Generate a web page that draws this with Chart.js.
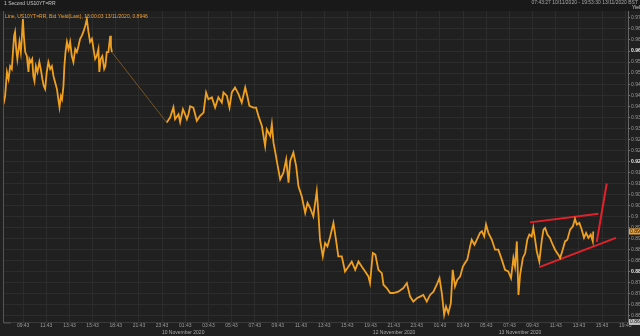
<!DOCTYPE html>
<html>
<head>
<meta charset="utf-8">
<script src="https://cdn.jsdelivr.net/npm/chart.js@4/dist/chart.umd.min.js"></script>
<style>
  html, body { margin: 0; padding: 0; background: #202020; }
  #wrap { width: 640px; height: 336px; }
</style>
</head>
<body>
<div id="wrap"><canvas id="chart" width="640" height="336"></canvas></div>
<script>
// Tick labels of the compressed time axis (one slot per label)
const slotLabels = ["09:43", "11:43", "13:43", "15:43", "18:43", "21:43", "23:43", "01:43", "03:43",
    "05:43", "07:43", "09:43", "11:43", "13:43", "15:43", "19:43", "21:43", "23:43", "01:43",
    "03:43", "05:43", "07:43", "09:43", "11:43", "13:43", "15:43", "19:43"];
const dateLabels = ["10 November 2020", "12 November 2020", "13 November 2020"];
const dateSlots = [6.91, 16.02, 21.46];

const yTicks = [0.864, 0.868, 0.872, 0.876, 0.88, 0.884, 0.888, 0.892, 0.896, 0.9, 0.904, 0.908,
    0.912, 0.916, 0.92, 0.924, 0.928, 0.932, 0.936, 0.94, 0.944, 0.948, 0.952, 0.956, 0.96,
    0.964, 0.968, 0.972];

// US10YT=RR bid yield (x = position on the time axis in slots)
const timeSlots = [-0.85, -0.78, -0.70, -0.63, -0.56, -0.49, -0.44, -0.39, -0.35, -0.30, -0.25, -0.20,
    -0.16, -0.10, -0.06, -0.01, 0.03, 0.09, 0.16, 0.23, 0.27, 0.33, 0.39, 0.44, 0.49, 0.55, 0.62,
    0.70, 0.76, 0.83, 0.89, 0.95, 1.02, 1.09, 1.17, 1.24, 1.31, 1.38, 1.46, 1.52, 1.57, 1.63, 1.68,
    1.74, 1.78, 1.83, 1.89, 1.96, 2.03, 2.10, 2.17, 2.25, 2.32, 2.39, 2.46, 2.53, 2.60, 2.68, 2.75,
    2.82, 2.89, 2.97, 3.04, 3.11, 3.18, 3.25, 3.29, 3.35, 3.42, 3.50, 3.55, 3.61, 3.68, 3.76, 3.79,
    3.83,
    6.20, 6.35, 6.49, 6.56, 6.71, 6.78, 6.90, 6.99, 7.07, 7.14, 7.21, 7.35, 7.50, 7.64, 7.79, 7.90,
    8.00, 8.15, 8.29, 8.43, 8.58, 8.65, 8.80, 8.91, 9.01, 9.15, 9.30, 9.44, 9.59, 9.68, 9.77, 9.94,
    10.06, 10.16, 10.31, 10.45, 10.52, 10.67, 10.74, 10.81, 10.88, 10.98, 11.10, 11.24, 11.36, 11.46,
    11.53, 11.67, 11.79, 11.89, 12.03, 12.18, 12.28, 12.39, 12.53, 12.68, 12.75, 12.82, 12.94, 13.04,
    13.14, 13.26, 13.40, 13.51, 13.61, 13.76, 13.90, 14.05, 14.19, 14.34, 14.48, 14.62, 14.77, 14.91,
    14.98, 15.10, 15.21, 15.34, 15.49, 15.56, 15.70, 15.85, 15.99, 16.20, 16.42, 16.57, 16.71, 16.85,
    17.00, 17.14, 17.28, 17.43, 17.57, 17.72, 17.86, 17.98, 18.08, 18.18, 18.26, 18.36, 18.47, 18.55,
    18.65, 18.75, 18.87, 18.99, 19.08, 19.18, 19.30, 19.37, 19.49, 19.59, 19.73, 19.81, 19.91, 19.99,
    20.09, 20.24, 20.38, 20.52, 20.67, 20.81, 20.95, 21.07, 21.17, 21.24, 21.32, 21.39, 21.46, 21.58,
    21.68, 21.77, 21.86, 21.96, 22.03, 22.11, 22.18, 22.29, 22.40, 22.47, 22.54, 22.64, 22.75, 22.87,
    22.97, 23.11, 23.19, 23.30, 23.40, 23.50, 23.62, 23.74, 23.83, 23.91, 24.02, 24.12, 24.22, 24.31,
    24.41, 24.51, 24.60, 24.62];
const yields = [0.9407, 0.9436, 0.9524, 0.9498, 0.9545, 0.9535, 0.9596, 0.9655, 0.9669, 0.9607, 0.9571,
    0.9607, 0.9633, 0.9596, 0.9644, 0.9716, 0.9655, 0.9596, 0.9582, 0.9524, 0.9571, 0.9560, 0.9571,
    0.9509, 0.9491, 0.9545, 0.9524, 0.9560, 0.9535, 0.9498, 0.9473, 0.9462, 0.9524, 0.9560, 0.9535,
    0.9545, 0.9509, 0.9487, 0.9462, 0.9425, 0.9396, 0.9436, 0.9425, 0.9473, 0.9545, 0.9596, 0.9633,
    0.9607, 0.9633, 0.9582, 0.9560, 0.9607, 0.9596, 0.9618, 0.9644, 0.9655, 0.9669, 0.9691, 0.9716,
    0.9669, 0.9633, 0.9644, 0.9607, 0.9571, 0.9582, 0.9607, 0.9524, 0.9571, 0.9582, 0.9535, 0.9545,
    0.9596, 0.9596, 0.9655, 0.9618, 0.9596,
    0.9341, 0.9360, 0.9396, 0.9353, 0.9371, 0.9342, 0.9389, 0.9371, 0.9353, 0.9371, 0.9400, 0.9395,
    0.9347, 0.9365, 0.9377, 0.9450, 0.9425, 0.9432, 0.9395, 0.9432, 0.9413, 0.9450, 0.9437, 0.9395,
    0.9450, 0.9468, 0.9444, 0.9413, 0.9468, 0.9437, 0.9401, 0.9395, 0.9395, 0.9365, 0.9328, 0.9256,
    0.9316, 0.9292, 0.9335, 0.9268, 0.9237, 0.9189, 0.9135, 0.9159, 0.9207, 0.9123, 0.9201, 0.9232,
    0.9183, 0.9110, 0.9074, 0.9013, 0.9050, 0.9032, 0.9001, 0.9092, 0.9013, 0.8916, 0.8856, 0.8904,
    0.8892, 0.8928, 0.8977, 0.8916, 0.8856, 0.8856, 0.8801, 0.8819, 0.8837, 0.8807, 0.8837, 0.8819,
    0.8801, 0.8783, 0.8759, 0.8868, 0.8862, 0.8807, 0.8795, 0.8753, 0.8741, 0.8723, 0.8723, 0.8728,
    0.8741, 0.8759, 0.8710, 0.8692, 0.8704, 0.8710, 0.8716, 0.8692, 0.8716, 0.8728, 0.8753, 0.8777,
    0.8723, 0.8644, 0.8674, 0.8650, 0.8686, 0.8807, 0.8747, 0.8771, 0.8783, 0.8819, 0.8832, 0.8844,
    0.8892, 0.8916, 0.8898, 0.8916, 0.8941, 0.8947, 0.8928, 0.8971, 0.8941, 0.8916, 0.8880, 0.8880,
    0.8844, 0.8807, 0.8801, 0.8777, 0.8850, 0.8819, 0.8910, 0.8716, 0.8789, 0.8850, 0.8868, 0.8916,
    0.8935, 0.8928, 0.8959, 0.8916, 0.8874, 0.8837, 0.8916, 0.8953, 0.8959, 0.8935, 0.8923, 0.8898,
    0.8880, 0.8862, 0.8850, 0.8880, 0.8910, 0.8916, 0.8953, 0.8965, 0.8992, 0.8971, 0.8977, 0.8953,
    0.8923, 0.8941, 0.8923, 0.8935, 0.8910, 0.8946];
const lastYield = 0.8946;
const axisLow = 0.8618;

// hand-drawn wedge lines (start/end)
const upperTrendX = [21.89, 24.84], upperTrendY = [0.8979, 0.9010];
const lowerTrendX = [22.29, 25.60], lowerTrendY = [0.8817, 0.8923];
const breakoutX = [24.77, 25.20], breakoutY = [0.8908, 0.9120];

function toPoints(xs, ys) {
    return xs.map((x, i) => ({ x: x, y: ys[i] }));
}

function fmtYield(v) {
    return parseFloat(v.toFixed(4)).toString();
}

function isMajor(c) {
    return !!(c && c.tick) && Math.round(c.tick.value * 1000) % 40 === 0;
}

Chart.defaults.font.family = "'Liberation Sans', Arial, sans-serif";
Chart.defaults.font.size = 5;

// background, header texts and axis tags
const decor = {
    id: 'decor',
    beforeDraw(chart) {
        const ctx = chart.ctx;
        ctx.save();
        ctx.fillStyle = '#202020';
        ctx.fillRect(0, 0, chart.width, chart.height);
        ctx.fillStyle = '#191919';
        ctx.fillRect(0, 0, chart.width, 11);
        ctx.restore();
    },
    afterDraw(chart) {
        const ctx = chart.ctx;
        const area = chart.chartArea;
        const y = chart.scales.y;
        ctx.save();
        ctx.textBaseline = 'middle';
        ctx.font = "5px 'Liberation Sans', Arial, sans-serif";
        ctx.fillStyle = '#c8c8c8';
        ctx.textAlign = 'left';
        ctx.fillText('1 Second US10YT=RR', 4, 4);
        ctx.textAlign = 'right';
        ctx.fillStyle = '#a8a8a8';
        ctx.fillText('07:43:27 10/11/2020 - 19:53:30 13/11/2020 BST', 638, 3);
        ctx.textAlign = 'left';
        ctx.fillStyle = '#d0d0d0';
        ctx.fillText('Yield', 632, 8);
        ctx.fillStyle = '#f0a030';
        ctx.fillText('Line, US10YT=RR, Bid Yield(Last), 13:00:03 13/11/2020, 0.8946', 5, 17);

        // frame on the left
        ctx.strokeStyle = '#555';
        ctx.lineWidth = 1;
        ctx.beginPath();
        ctx.moveTo(area.left + 0.5, area.top);
        ctx.lineTo(area.left + 0.5, area.bottom + 1);
        ctx.lineTo(area.left + 8, area.bottom + 1);
        ctx.stroke();

        // last value tag
        const ly = y.getPixelForValue(lastYield);
        ctx.fillStyle = '#f0a030';
        ctx.fillRect(area.right + 1, ly - 3, 12, 6);
        ctx.fillStyle = '#111';
        ctx.fillText(fmtYield(lastYield), area.right + 2, ly);

        // low value tag
        const by = y.getPixelForValue(axisLow);
        ctx.fillStyle = '#bdbdbd';
        ctx.fillRect(area.right + 1, by - 3, 12, 6);
        ctx.fillStyle = '#222';
        ctx.fillText(fmtYield(axisLow), area.right + 2, by);
        ctx.restore();
    }
};

const ctx = document.getElementById('chart').getContext('2d');
new Chart(ctx, {
    type: 'line',
    data: {
        datasets: [{
            data: toPoints(timeSlots, yields),
            borderColor: '#f0a020',
            borderWidth: 1.8,
            borderJoinStyle: 'miter',
            pointRadius: 0,
            tension: 0,
            segment: {
                // the jump over the closed session is a plain thin line
                borderColor: c => (c.p1.parsed.x - c.p0.parsed.x > 1 ? '#8c6222' : undefined),
                borderWidth: c => (c.p1.parsed.x - c.p0.parsed.x > 1 ? 0.8 : undefined)
            }
        }, {
            data: toPoints(upperTrendX, upperTrendY),
            borderColor: '#e3212b', borderWidth: 2, pointRadius: 0
        }, {
            data: toPoints(lowerTrendX, lowerTrendY),
            borderColor: '#e3212b', borderWidth: 2, pointRadius: 0
        }, {
            data: toPoints(breakoutX, breakoutY),
            borderColor: '#e3212b', borderWidth: 2, pointRadius: 0
        }]
    },
    options: {
        responsive: false,
        animation: false,
        layout: { padding: { top: 11, left: 3, right: 0, bottom: 0 } },
        plugins: { legend: { display: false }, tooltip: { enabled: false } },
        scales: {
            x: {
                type: 'linear',
                position: 'bottom',
                min: -0.87,
                max: 26.12,
                afterBuildTicks: axis => { axis.ticks = slotLabels.map((_, i) => ({ value: i })); },
                afterFit: axis => { axis.height = 8; },
                ticks: {
                    autoSkip: false,
                    maxRotation: 0,
                    padding: 1,
                    color: '#9a9a9a',
                    callback: (v, i) => slotLabels[i]
                },
                grid: { color: '#2c2c2c', drawTicks: false },
                border: { color: '#3a3a3a' }
            },
            x2: {
                type: 'linear',
                position: 'bottom',
                min: -0.87,
                max: 26.12,
                afterBuildTicks: axis => { axis.ticks = dateSlots.map(v => ({ value: v })); },
                afterFit: axis => { axis.height = 6; },
                ticks: {
                    autoSkip: false,
                    maxRotation: 0,
                    padding: 0,
                    color: '#a8a8a8',
                    callback: (v, i) => dateLabels[i]
                },
                grid: { display: false, drawTicks: false },
                border: { display: false }
            },
            y: {
                position: 'right',
                min: axisLow,
                max: 0.9745,
                afterBuildTicks: axis => { axis.ticks = yTicks.map(v => ({ value: v })); },
                afterFit: axis => { axis.width = 12; },
                ticks: {
                    autoSkip: false,
                    padding: 1,
                    color: c => (isMajor(c) ? '#e6e6e6' : '#9a9a9a'),
                    font: c => ({ size: 5, weight: isMajor(c) ? 'bold' : 'normal' }),
                    callback: v => fmtYield(v)
                },
                grid: { color: '#2c2c2c', tickLength: 2, tickColor: '#777' },
                border: { color: '#666' }
            }
        }
    },
    plugins: [decor]
});
</script>
</body>
</html>
